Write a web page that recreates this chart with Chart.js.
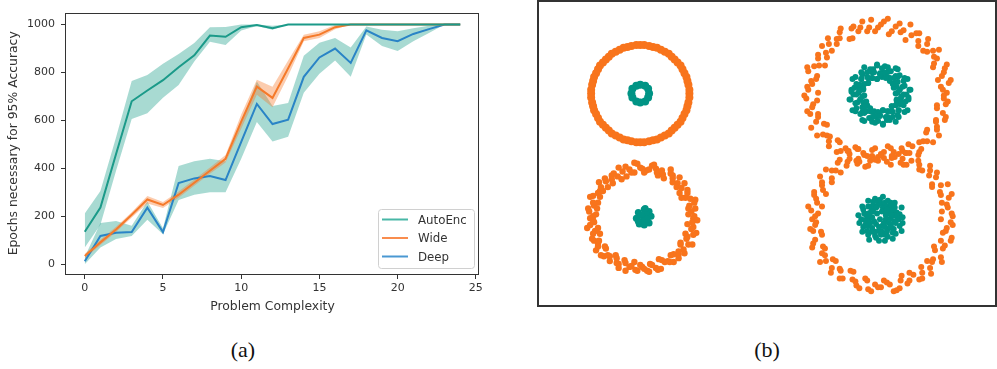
<!DOCTYPE html>
<html>
<head>
<meta charset="utf-8">
<script src="https://cdn.jsdelivr.net/npm/chart.js@4.4.0/dist/chart.umd.min.js"></script>
<style>
  body { margin: 0; background: #fff; width: 997px; height: 369px; position: relative; overflow: hidden; }
  #wrapA { position: absolute; left: 0; top: 0; width: 500px; height: 325px; }
  #wrapB { position: absolute; left: 537px; top: 0; width: 460px; height: 307px; border: 2px solid #333; box-sizing: border-box; }
  .cap { position: absolute; top: 337px; width: 60px; text-align: center; font: 22px "Liberation Serif", serif; color: #111; }
</style>
</head>
<body>
<div id="wrapA"><canvas id="curves" width="500" height="325"></canvas></div>
<div id="wrapB"><canvas id="rings" width="456" height="303"></canvas></div>
<div class="cap" style="left:213px">(a)</div>
<div class="cap" style="left:737px">(b)</div>

<script>
// ---- (a) epochs needed vs problem complexity ----
const complexity = [0,1,2,3,4,5,6,7,8,9,10,11,12,13,14,15,16,17,18,19,20,21,22,23,24];
const xTicks = [0, 5, 10, 15, 20, 25];
const yTicks = [0, 200, 400, 600, 800, 1000];

const autoEnc   = [135,236,460,680,725,768,822,872,954,949,989,998,985,1000,1000,1000,1000,1000,1000,1000,1000,1000,1000,1000,1000];
const autoEncLo = [70,165,390,606,630,695,748,846,928,915,975,994,978,1000,1000,1000,1000,1000,1000,1000,1000,1000,1000,1000,1000];
const autoEncHi = [212,305,530,764,790,837,877,923,989,990,1000,1000,995,1000,1000,1000,1000,1000,1000,1000,1000,1000,1000,1000,1000];

const wide   = [34,91,145,206,270,247,290,340,390,440,595,741,694,818,944,958,989,1000,1000,1000,1000,1000,1000,1000,1000];
const wideLo = [24,80,134,195,253,234,277,327,377,424,565,707,655,785,930,944,980,1000,1000,1000,1000,1000,1000,1000,1000];
const wideHi = [44,102,156,217,285,260,303,353,403,456,625,770,740,850,958,972,998,1000,1000,1000,1000,1000,1000,1000,1000];

const deep   = [12,118,131,134,236,134,339,358,368,351,510,669,585,603,782,863,900,840,976,944,931,961,981,1000,1000];
const deepLo = [0,70,105,118,185,125,268,290,300,300,440,593,512,532,715,795,850,782,959,911,890,930,965,1000,1000];
const deepHi = [30,172,180,160,262,150,410,430,440,430,590,762,660,673,870,924,944,904,992,978,972,985,995,1000,1000];

const seriesNames = ['AutoEnc', 'Wide', 'Deep'];
const lineColors = ['#1b9a89', '#f57a2a', '#2a84c6'];
const legendColors = ['#48b7a6', '#f98d4e', '#4a98d2'];
const tealBand = 'rgba(27,158,138,0.38)';
const orangeBand = 'rgba(248,122,42,0.38)';

const pts = vals => complexity.map((c, i) => ({ x: c, y: vals[i] }));
const band = (lo, hi, color) => [
  { data: pts(lo), borderWidth: 0, pointRadius: 0, fill: false, order: 3 },
  { data: pts(hi), borderWidth: 0, pointRadius: 0, fill: '-1', backgroundColor: color, order: 3 }
];
const line = (vals, color) => ({
  data: pts(vals), borderColor: color, borderWidth: 2, pointRadius: 0, fill: false, tension: 0, order: 1
});

const tickFont = { family: 'DejaVu Sans', size: 11 };
const titleFont = { family: 'DejaVu Sans', size: 12.4 };

// top and right spines of the axes box
const boxFrame = {
  id: 'boxFrame',
  afterDatasetsDraw(chart) {
    const { ctx, chartArea: a } = chart;
    ctx.save();
    ctx.strokeStyle = '#333';
    ctx.lineWidth = 1;
    ctx.strokeRect(Math.round(a.left) - 0.5, Math.round(a.top) + 0.5, Math.round(a.right - a.left), Math.round(a.bottom - a.top));
    ctx.restore();
  }
};

// small legend in the lower right corner
const cornerLegend = {
  id: 'cornerLegend',
  afterDraw(chart) {
    const { ctx, chartArea: a } = chart;
    const w = 96, h = 59;
    const x = a.right - w - 5, y = a.bottom - h - 6;
    ctx.save();
    ctx.fillStyle = 'rgba(255,255,255,0.85)';
    ctx.strokeStyle = '#d0d0d0';
    ctx.lineWidth = 1;
    ctx.beginPath();
    ctx.roundRect(x + 0.5, y + 0.5, w, h, 3);
    ctx.fill();
    ctx.stroke();
    ctx.font = '11.8px "DejaVu Sans"';
    ctx.textBaseline = 'middle';
    seriesNames.forEach((name, i) => {
      const ly = y + 10.5 + i * 18.5;
      ctx.strokeStyle = legendColors[i];
      ctx.lineWidth = 2;
      ctx.beginPath();
      ctx.moveTo(x + 4, ly);
      ctx.lineTo(x + 30, ly);
      ctx.stroke();
      ctx.fillStyle = '#333';
      ctx.fillText(name, x + 40, ly + 1);
    });
    ctx.restore();
  }
};

new Chart(document.getElementById('curves'), {
  type: 'line',
  data: {
    datasets: [
      ...band(autoEncLo, autoEncHi, tealBand),
      ...band(wideLo, wideHi, orangeBand),
      ...band(deepLo, deepHi, tealBand),
      line(autoEnc, lineColors[0]),
      line(wide, lineColors[1]),
      line(deep, lineColors[2])
    ]
  },
  options: {
    responsive: false,
    animation: false,
    layout: { padding: { left: 0, top: 6, right: 21, bottom: 0 } },
    plugins: { legend: { display: false }, tooltip: { enabled: false } },
    scales: {
      x: {
        type: 'linear', min: -1.2, max: 25.2,
        afterBuildTicks: s => { s.ticks = xTicks.map(v => ({ value: v })); },
        afterFit: s => { s.height = 51; },
        ticks: { font: tickFont, color: '#333', padding: 3, maxRotation: 0, callback: v => String(v) },
        grid: { drawOnChartArea: false, tickLength: 5, color: '#333' },
        border: { display: false },
        title: { display: true, text: 'Problem Complexity', font: titleFont, color: '#333', padding: { top: 0, bottom: 11 } }
      },
      y: {
        type: 'linear', min: -41, max: 1050,
        afterBuildTicks: s => { s.ticks = yTicks.map(v => ({ value: v })); },
        afterFit: s => { s.width = 66; },
        ticks: { font: tickFont, color: '#333', padding: 6, callback: v => String(v) },
        grid: { drawOnChartArea: false, tickLength: 5, color: '#333' },
        border: { display: false },
        title: { display: true, text: 'Epochs necessary for 95% Accuracy', font: titleFont, color: '#333', padding: { top: 6, bottom: 0 } }
      }
    }
  },
  plugins: [boxFrame, cornerLegend]
});

// ---- (b) ring datasets ----
const topLeftOuter = [
  [150,213],[150,217],[149,222],[148,226],[147,230],[145,234],[143,238],[141,242],[138,245],[135,248],[132,251],[129,254],[125,256],[121,258],[117,260],[113,261],[109,262],[104,263],
  [100,263],[96,263],[91,262],[87,261],[83,260],[79,258],[75,256],[71,254],[68,251],[65,248],[62,245],[59,242],[57,238],[55,234],[53,230],[52,226],[51,222],[50,217],
  [50,213],[50,209],[51,204],[52,200],[53,196],[55,192],[57,188],[59,184],[62,181],[65,178],[68,175],[71,172],[75,170],[79,168],[83,166],[87,165],[91,164],[96,163],
  [100,163],[104,163],[109,164],[113,165],[117,166],[121,168],[125,170],[129,172],[132,175],[135,178],[138,181],[141,184],[143,188],[145,192],[147,196],[148,200],[149,204],[150,209]
];
const topLeftInner = [
  [109,213],[108,218],[105,221],[100,222],[96,221],[92,218],[91,213],[92,209],[96,205],[100,204],[105,205],[108,209]
];
const bottomLeftOuter = [
  [154,85],[149,89],[156,95],[150,98],[156,104],[146,106],[148,111],[140,111],[145,121],[138,121],[133,122],[133,129],[131,135],[123,130],[118,129],[116,136],[112,139],[106,134],
  [102,136],[97,141],[94,132],[89,135],[86,128],[78,137],[77,128],[71,129],[72,121],[65,123],[58,122],[62,113],[57,111],[52,108],[57,101],[53,98],[47,95],[55,89],
  [49,85],[53,81],[46,75],[54,72],[59,69],[53,62],[57,59],[55,52],[65,54],[63,46],[69,46],[75,47],[76,39],[78,34],[85,39],[89,35],[94,40],[97,31],
  [102,35],[107,31],[110,38],[116,34],[121,33],[122,42],[128,41],[134,40],[134,48],[139,48],[145,49],[141,58],[149,58],[147,64],[146,69],[157,70],[154,76],[153,81],
  [52,87],[48,92],[56,95],[52,101],[49,107],[59,107],[59,113],[60,117],[67,117],[64,126],[71,125],[73,131],[81,125],[82,133],[85,138],[91,132],[94,142],[100,137],
  [104,132],[109,135],[114,140],[117,132],[122,134],[124,126],[131,131],[133,126],[140,127],[137,117],[142,116],[148,114],[142,106],[151,105],[155,101],[149,95],[152,92],[155,87],
  [158,83],[148,79],[152,74],[154,68],[148,66],[153,58],[141,60],[144,53],[139,51],[139,44],[131,47],[130,40],[125,40],[119,43],[118,32],[112,37],[109,30],[104,33],
  [100,37],[95,32],[91,36],[85,31],[84,42],[78,38],[76,44],[69,41],[67,47],[60,47],[64,56],[57,56],[58,62],[51,64],[52,69],[57,75],[49,78],[52,83]
];
const bottomLeftInner = [
  [104,86],[111,87],[109,92],[104,94],[98,91],[96,85],[99,79],[104,78],[109,80],[106,89],[101,88],[107,84],[102,82],[105,95],[98,82]
];
const topRightOuter = [
  [412,214],[406,220],[416,227],[407,231],[410,239],[398,240],[402,249],[404,258],[392,256],[392,264],[383,262],[384,275],[376,273],[375,284],[365,276],[360,282],[353,274],[348,287],
  [342,281],[335,289],[331,277],[324,281],[317,282],[316,270],[304,280],[303,270],[300,264],[292,264],[285,262],[290,250],[281,249],[282,242],[270,240],[280,231],[274,226],[270,220],
  [281,214],[269,208],[276,202],[270,195],[281,192],[279,184],[287,182],[280,170],[290,170],[292,164],[301,165],[300,153],[309,157],[313,151],[321,156],[323,143],[329,138],[336,149],
  [342,144],[348,147],[355,140],[358,153],[367,146],[371,152],[373,161],[384,153],[384,163],[392,164],[391,173],[404,170],[402,179],[401,186],[411,189],[402,198],[411,202],[409,208],
  [408,217],[414,224],[403,227],[409,235],[412,243],[399,244],[399,251],[398,257],[388,257],[393,269],[383,267],[381,275],[370,268],[368,278],[364,285],[356,277],[352,290],[345,284],
  [339,277],[333,281],[326,287],[322,277],[315,280],[313,269],[303,276],[300,269],[291,270],[295,257],[289,255],[281,253],[288,242],[277,241],[271,236],[279,228],[275,223],[271,217],
  [267,211],[280,206],[275,199],[273,192],[281,189],[274,178],[290,181],[286,171],[293,169],[292,159],[303,163],[304,154],[311,154],[319,158],[320,144],[328,150],[332,139],[339,145],
  [345,150],[351,143],[356,149],[365,142],[366,157],[374,152],[377,159],[386,156],[388,164],[398,163],[392,176],[402,176],[401,184],[410,186],[408,193],[402,201],[413,205],[409,211]
];
const topRightInner = [
  [368,212],[362,214],[374,217],[364,217],[369,221],[358,219],[372,228],[362,225],[359,224],[364,232],[360,231],[354,226],[360,239],[352,230],[353,236],[350,234],[349,241],[346,230],
  [344,234],[341,242],[341,228],[337,238],[336,235],[336,229],[328,240],[332,229],[326,233],[332,224],[325,228],[319,230],[327,222],[320,223],[322,220],[327,217],[315,217],[322,214],
  [317,212],[328,211],[313,207],[324,207],[321,204],[327,204],[320,198],[319,195],[331,201],[326,194],[330,195],[326,186],[334,195],[333,188],[338,195],[336,184],[340,189],[342,185],
  [344,191],[347,181],[347,196],[350,189],[354,186],[352,195],[357,189],[357,194],[363,189],[356,200],[363,196],[360,201],[372,196],[365,202],[361,206],[370,205],[365,208],[373,209],
  [320,212],[326,210],[314,207],[324,207],[319,203],[330,205],[316,196],[326,199],[329,200],[324,192],[328,193],[334,198],[328,185],[336,194],[335,188],[338,190],[339,183],[342,194],
  [344,190],[347,182],[347,196],[351,186],[352,189],[352,195],[360,184],[356,195],[362,191],[356,200],[363,196],[369,194],[361,202],[368,201],[366,204],[361,207],[373,207],[366,210],
  [371,212],[360,213],[375,217],[364,217],[367,220],[361,220],[368,226],[369,229],[357,223],[362,230],[358,229],[362,238],[354,229],[355,236],[350,229],[352,240],[348,235],[346,239],
  [344,233],[341,243],[341,228],[338,235],[334,238],[336,229],[331,235],[331,230],[325,235],[332,224],[325,228],[328,223],[316,228],[323,222],[327,218],[318,219],[323,216],[315,215]
];
const bottomRightOuter = [
  [275,84],[281,90],[271,97],[280,101],[277,109],[289,110],[285,119],[283,128],[295,126],[295,134],[304,132],[303,145],[311,143],[312,154],[322,146],[327,152],[334,144],[339,157],
  [345,151],[352,159],[356,147],[363,151],[370,152],[371,140],[383,150],[384,140],[387,134],[395,134],[402,132],[397,120],[406,119],[405,112],[417,110],[407,101],[413,96],[417,90],
  [406,84],[418,78],[411,72],[417,65],[406,62],[408,54],[400,52],[407,40],[397,40],[395,34],[386,35],[387,23],[378,27],[374,21],[366,26],[364,13],[358,10],[351,19],
  [345,14],[339,17],[332,12],[329,23],[320,16],[316,22],[314,31],[303,23],[303,33],[295,34],[296,43],[283,40],[285,49],[286,56],[276,59],[285,68],[276,72],[278,78],
  [279,81],[273,74],[284,71],[278,63],[275,55],[288,54],[288,47],[289,41],[299,41],[294,29],[304,31],[306,23],[317,30],[319,20],[323,13],[331,21],[335,10],[342,14],
  [348,21],[354,17],[361,11],[365,21],[372,18],[374,29],[384,22],[387,29],[396,28],[392,41],[398,43],[406,45],[399,56],[410,57],[416,62],[408,70],[412,75],[416,81],
  [418,87],[407,92],[412,99],[414,106],[406,109],[413,120],[397,117],[401,127],[394,129],[395,139],[384,135],[383,144],[376,144],[368,140],[367,154],[359,148],[355,157],[348,153],
  [342,148],[336,155],[331,149],[322,156],[321,141],[313,146],[310,139],[301,142],[299,134],[289,135],[295,122],[285,122],[286,114],[277,112],[279,105],[285,97],[274,93],[278,87]
];
const bottomRightInner = [
  [363,84],[359,82],[367,80],[360,80],[364,77],[355,79],[366,72],[358,74],[356,75],[360,69],[357,70],[352,74],[357,64],[351,71],[352,66],[349,68],[349,62],[346,71],
  [345,68],[343,62],[343,72],[340,65],[339,67],[339,71],[333,63],[336,71],[332,68],[336,75],[331,72],[326,71],[332,77],[327,76],[329,78],[332,80],[323,80],[329,83],
  [325,84],[333,85],[322,88],[330,88],[328,90],[332,90],[327,94],[326,97],[335,92],[332,97],[335,97],[332,103],[338,97],[337,102],[341,97],[339,105],[342,101],[344,104],
  [345,100],[347,107],[347,96],[349,101],[352,103],[351,97],[355,101],[355,97],[359,101],[354,93],[359,96],[357,92],[366,96],[361,91],[358,88],[364,89],[361,87],[367,86],
  [350,84],[340,79],[346,77],[353,90],[336,86],[349,93],[344,84],[355,85],
  [348,80],[341,90],[350,88],[338,82],[346,92],[353,80],[337,92],[343,76],[356,88],[334,80],[349,76],[340,96],[351,94],[333,88],[355,76]
];

const outerColor = '#f8741c';
const innerColor = '#009485';
const asXY = list => list.map(p => ({ x: p[0], y: p[1] }));
const ringSet = (list, color, r) => ({
  data: asXY(list), backgroundColor: color, borderWidth: 0, pointRadius: r, pointHoverRadius: r
});

new Chart(document.getElementById('rings'), {
  type: 'scatter',
  data: {
    datasets: [
      ringSet(topLeftOuter, outerColor, 4),
      ringSet(bottomLeftOuter, outerColor, 3.2),
      ringSet(topRightOuter, outerColor, 3),
      ringSet(bottomRightOuter, outerColor, 3),
      ringSet(topLeftInner, innerColor, 4),
      ringSet(bottomLeftInner, innerColor, 3.5),
      ringSet(topRightInner, innerColor, 3),
      ringSet(bottomRightInner, innerColor, 3)
    ]
  },
  options: {
    responsive: false,
    animation: false,
    layout: { padding: 0 },
    plugins: { legend: { display: false }, tooltip: { enabled: false } },
    scales: {
      x: { type: 'linear', min: 1, max: 457, display: false },
      y: { type: 'linear', min: 0, max: 303, display: false }
    }
  }
});
</script>
</body>
</html>
